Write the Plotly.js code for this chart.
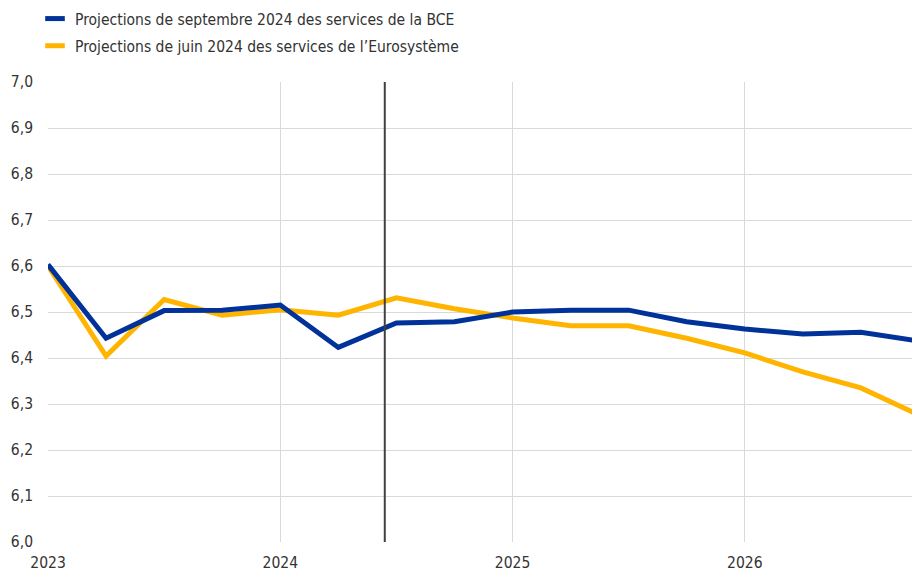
<!DOCTYPE html>
<html>
<head>
<meta charset="utf-8">
<script src="https://cdn.plot.ly/plotly-3.0.1.min.js"></script>
<style>html,body{margin:0;padding:0;background:#fff;}#chart{width:912px;height:572px;}</style>
</head>
<body>
<div id="chart"></div>
<script>
// Quarterly periods (2023 Q1 ... 2026 Q4) as fractional years
var periods = [2023, 2023.25, 2023.5, 2023.75, 2024, 2024.25, 2024.5, 2024.75,
               2025, 2025.25, 2025.5, 2025.75, 2026, 2026.25, 2026.5, 2026.75];
var septemberBCE = [6.603, 6.443, 6.503, 6.504, 6.515, 6.423, 6.476, 6.479,
                    6.500, 6.504, 6.504, 6.479, 6.463, 6.452, 6.456, 6.437];
var juinEurosysteme = [6.600, 6.404, 6.527, 6.493, 6.505, 6.493, 6.531, 6.507,
                       6.487, 6.470, 6.470, 6.443, 6.411, 6.370, 6.335, 6.276];
var seriesNames = ["Projections de septembre 2024 des services de la BCE",
                   "Projections de juin 2024 des services de l\u2019Eurosystème"];
var yearTicks = [2023, 2024, 2025, 2026];
var yearLabels = ["2023", "2024", "2025", "2026"];
var yTicks = [6.0, 6.1, 6.2, 6.3, 6.4, 6.5, 6.6, 6.7, 6.8, 6.9, 7.0];
var cutoff = 2024.45;

var BLUE = "#003299", YELLOW = "#ffb400";
var FONT = "'Liberation Sans Narrow', 'DejaVu Sans Condensed', 'Liberation Sans', Arial, sans-serif";
var FS = 15.5;

var traces = [
  {x: [null], y: [null], mode: "markers", name: seriesNames[0], showlegend: true, legendgroup: "a",
   marker: {symbol: "line-ew", size: 14, color: BLUE, line: {color: BLUE, width: 6}}, hoverinfo: "skip"},
  {x: [null], y: [null], mode: "markers", name: seriesNames[1], showlegend: true, legendgroup: "b",
   marker: {symbol: "line-ew", size: 14, color: YELLOW, line: {color: YELLOW, width: 6}}, hoverinfo: "skip"},
  {x: periods, y: juinEurosysteme, mode: "lines", showlegend: false,
   line: {color: YELLOW, width: 5}, name: seriesNames[1]},
  {x: periods, y: septemberBCE, mode: "lines", showlegend: false,
   line: {color: BLUE, width: 5}, name: seriesNames[0]}
];

var layout = {
  width: 912, height: 572,
  margin: {l: 48, r: 0, t: 82, b: 30, pad: 0, autoexpand: false},
  paper_bgcolor: "#fff", plot_bgcolor: "#fff",
  separators: ", ",
  font: {family: FONT, size: FS, color: "#333333"},
  showlegend: true,
  legend: {x: 35/912, y: 1 - 2/572, xref: "container", yref: "container", xanchor: "left", yanchor: "top",
           bgcolor: "rgba(0,0,0,0)", font: {family: FONT, size: FS, color: "#333333"},
           tracegroupgap: 4},
  xaxis: {range: [2023, 2026.72], tickvals: yearTicks, ticktext: yearLabels,
          showgrid: true, gridcolor: "#d9d9d9", gridwidth: 1, zeroline: false,
          showline: false, ticks: "", ticklabelstandoff: 9,
          tickfont: {size: FS, color: "#333333"}, fixedrange: true},
  yaxis: {range: [6.0, 7.0], tickvals: yTicks, tickformat: ".1f",
          showgrid: true, gridcolor: "#d9d9d9", gridwidth: 1, zeroline: false,
          showline: false, ticks: "", ticklabelstandoff: 14,
          tickfont: {size: FS, color: "#333333"}, fixedrange: true},
  shapes: [{type: "line", xref: "x", yref: "paper", x0: cutoff, x1: cutoff, y0: 0, y1: 1,
            line: {color: "#404040", width: 2}}]
};

Plotly.newPlot("chart", traces, layout, {displayModeBar: false, staticPlot: true});
</script>
</body>
</html>
